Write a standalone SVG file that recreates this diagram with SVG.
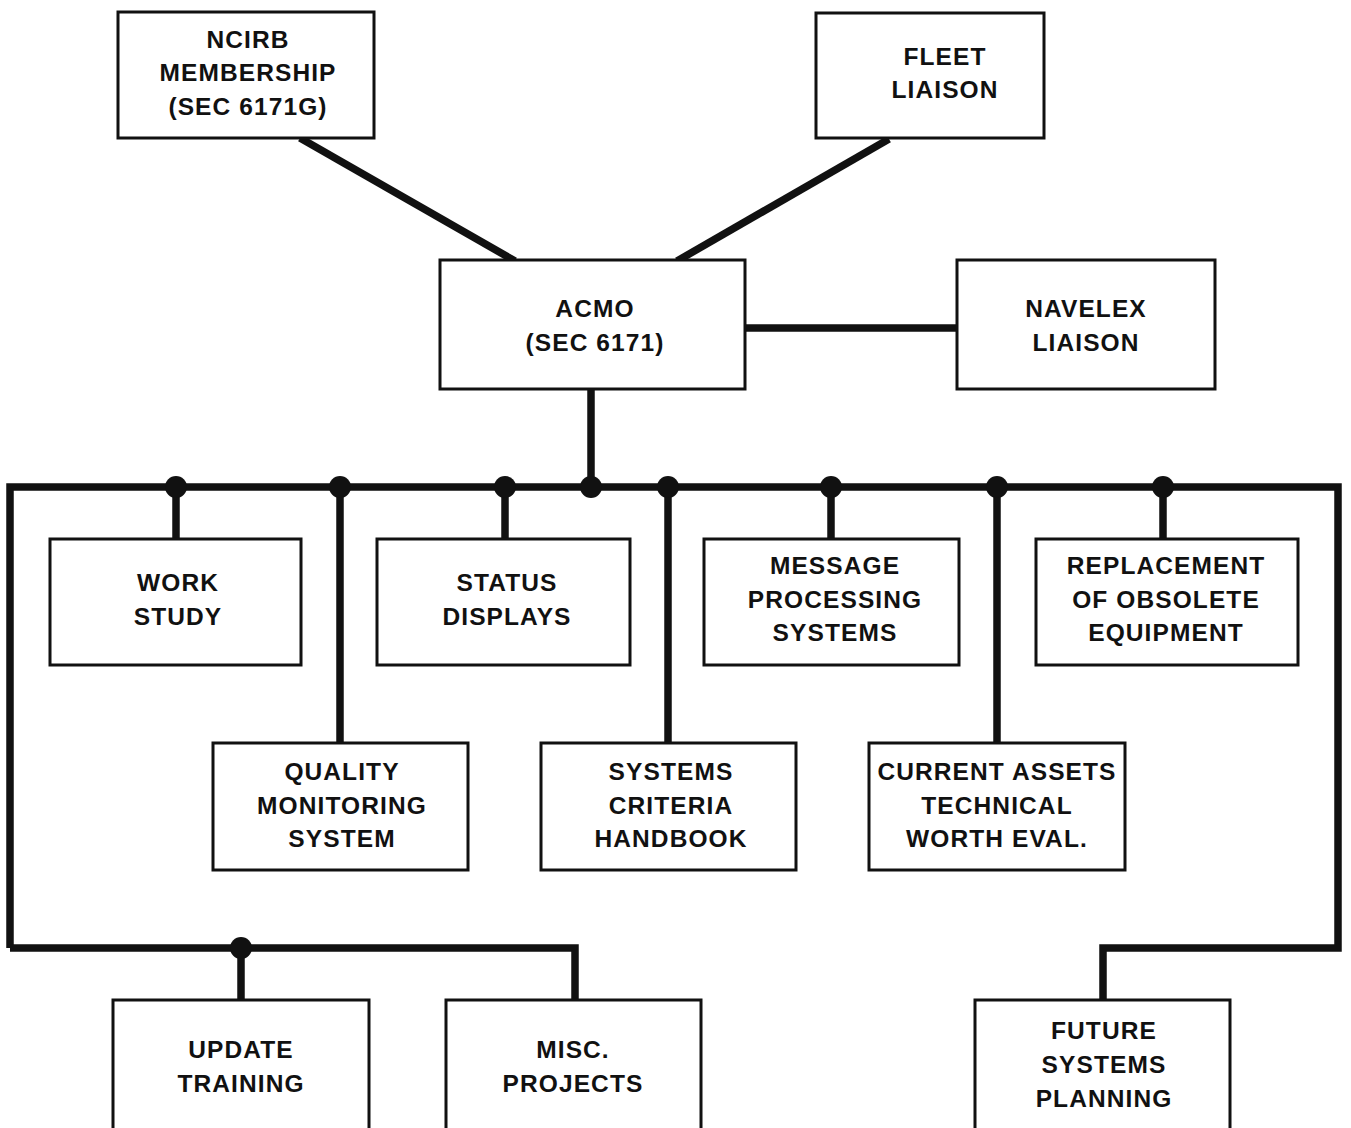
<svg xmlns="http://www.w3.org/2000/svg" width="1351" height="1128" viewBox="0 0 1351 1128">
<style>
.box{fill:#fff;stroke:#111;stroke-width:3}
.ln{fill:none;stroke:#111;stroke-width:7.5;stroke-linejoin:miter;stroke-linecap:butt}
.dot{fill:#111}
text{font-family:"Liberation Sans",Arial,sans-serif;font-weight:bold;font-size:24.5px;letter-spacing:1.1px;fill:#111;text-anchor:middle}
</style>
<rect width="1351" height="1128" fill="#fff"/>
<g id="connectors">
<line class="ln" x1="300" y1="138" x2="515" y2="261"/>
<line class="ln" x1="889" y1="139" x2="677" y2="261"/>
<line class="ln" x1="745" y1="328" x2="957" y2="328"/>
<line class="ln" x1="591" y1="389" x2="591" y2="487"/>
<polyline class="ln" points="10,948 10,487 1338,487 1338,948 1103,948 1103,1000"/>
<polyline class="ln" points="10,948 575,948 575,1000"/>
<line class="ln" x1="241" y1="948" x2="241" y2="1000"/>
<line class="ln" x1="176" y1="487" x2="176" y2="539"/>
<line class="ln" x1="340" y1="487" x2="340" y2="743"/>
<line class="ln" x1="505" y1="487" x2="505" y2="539"/>
<line class="ln" x1="668" y1="487" x2="668" y2="743"/>
<line class="ln" x1="831" y1="487" x2="831" y2="539"/>
<line class="ln" x1="997" y1="487" x2="997" y2="743"/>
<line class="ln" x1="1163" y1="487" x2="1163" y2="539"/>
<circle class="dot" cx="176" cy="487" r="11"/>
<circle class="dot" cx="340" cy="487" r="11"/>
<circle class="dot" cx="505" cy="487" r="11"/>
<circle class="dot" cx="591" cy="487" r="11"/>
<circle class="dot" cx="668" cy="487" r="11"/>
<circle class="dot" cx="831" cy="487" r="11"/>
<circle class="dot" cx="997" cy="487" r="11"/>
<circle class="dot" cx="1163" cy="487" r="11"/>
<circle class="dot" cx="241" cy="948" r="11"/>
</g>
<g id="ncirb"><rect class="box" x="118" y="12" width="256" height="126"/>
<text x="248" y="48">NCIRB</text><text x="248" y="81">MEMBERSHIP</text><text x="248" y="115">(SEC 6171G)</text></g>
<g id="fleet"><rect class="box" x="816" y="13" width="228" height="125"/>
<text x="945" y="65">FLEET</text><text x="945" y="98">LIAISON</text></g>
<g id="acmo"><rect class="box" x="440" y="260" width="305" height="129"/>
<text x="595" y="317">ACMO</text><text x="595" y="351">(SEC 6171)</text></g>
<g id="navelex"><rect class="box" x="957" y="260" width="258" height="129"/>
<text x="1086" y="317">NAVELEX</text><text x="1086" y="351">LIAISON</text></g>
<g id="work"><rect class="box" x="50" y="539" width="251" height="126"/>
<text x="178" y="591">WORK</text><text x="178" y="625">STUDY</text></g>
<g id="status"><rect class="box" x="377" y="539" width="253" height="126"/>
<text x="507" y="591">STATUS</text><text x="507" y="625">DISPLAYS</text></g>
<g id="message"><rect class="box" x="704" y="539" width="255" height="126"/>
<text x="835" y="574">MESSAGE</text><text x="835" y="608">PROCESSING</text><text x="835" y="641">SYSTEMS</text></g>
<g id="replacement"><rect class="box" x="1036" y="539" width="262" height="126"/>
<text x="1166" y="574">REPLACEMENT</text><text x="1166" y="608">OF OBSOLETE</text><text x="1166" y="641">EQUIPMENT</text></g>
<g id="quality"><rect class="box" x="213" y="743" width="255" height="127"/>
<text x="342" y="780">QUALITY</text><text x="342" y="814">MONITORING</text><text x="342" y="847">SYSTEM</text></g>
<g id="criteria"><rect class="box" x="541" y="743" width="255" height="127"/>
<text x="671" y="780">SYSTEMS</text><text x="671" y="814">CRITERIA</text><text x="671" y="847">HANDBOOK</text></g>
<g id="assets"><rect class="box" x="869" y="743" width="256" height="127"/>
<text x="997" y="780">CURRENT ASSETS</text><text x="997" y="814">TECHNICAL</text><text x="997" y="847">WORTH EVAL.</text></g>
<g id="update"><rect class="box" x="113" y="1000" width="256" height="140"/>
<text x="241" y="1058">UPDATE</text><text x="241" y="1092">TRAINING</text></g>
<g id="misc"><rect class="box" x="446" y="1000" width="255" height="140"/>
<text x="573" y="1058">MISC.</text><text x="573" y="1092">PROJECTS</text></g>
<g id="future"><rect class="box" x="975" y="1000" width="255" height="140"/>
<text x="1104" y="1039">FUTURE</text><text x="1104" y="1073">SYSTEMS</text><text x="1104" y="1107">PLANNING</text></g>
</svg>
